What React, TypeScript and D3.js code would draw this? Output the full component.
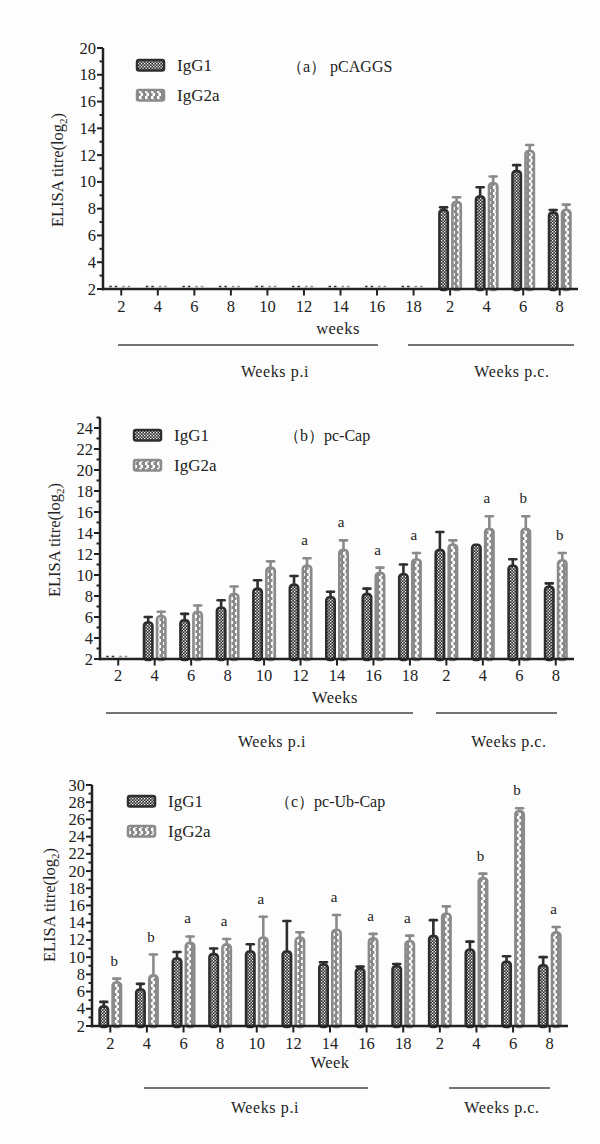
import React from 'react';
import * as d3 from 'd3';

// ---------- DATA ----------
const weeks = ["2", "4", "6", "8", "10", "12", "14", "16", "18", "2", "4", "6", "8"];
const seriesNames = ["IgG1", "IgG2a"];

// Panel (a) pCAGGS
const aIgG1 = [2, 2, 2, 2, 2, 2, 2, 2, 2, 8.0, 9.0, 10.9, 7.8];
const aIgG1Err = [0, 0, 0, 0, 0, 0, 0, 0, 0, 0.1, 0.6, 0.35, 0.1];
const aIgG2a = [2, 2, 2, 2, 2, 2, 2, 2, 2, 8.6, 10.0, 12.4, 8.0];
const aIgG2aErr = [0, 0, 0, 0, 0, 0, 0, 0, 0, 0.25, 0.4, 0.35, 0.3];
const aLetters = ["", "", "", "", "", "", "", "", "", "", "", "", ""];

// Panel (b) pc-Cap
const bIgG1 = [2, 5.6, 5.8, 7.0, 8.8, 9.2, 8.0, 8.3, 10.2, 12.5, 13.0, 11.0, 9.0];
const bIgG1Err = [0, 0.4, 0.5, 0.6, 0.7, 0.7, 0.4, 0.4, 0.8, 1.6, 0, 0.5, 0.2];
const bIgG2a = [2, 6.2, 6.6, 8.3, 10.8, 11.0, 12.5, 10.3, 11.6, 13.0, 14.5, 14.5, 11.5];
const bIgG2aErr = [0, 0.3, 0.5, 0.6, 0.5, 0.6, 0.8, 0.4, 0.5, 0.3, 1.1, 1.1, 0.6];
const bLetters = ["", "", "", "", "", "a", "a", "a", "a", "", "a", "b", "b"];

// Panel (c) pc-Ub-Cap
const cIgG1 = [4.4, 6.4, 10.0, 10.5, 10.8, 10.8, 9.3, 8.8, 9.1, 12.6, 11.0, 9.6, 9.2];
const cIgG1Err = [0.4, 0.5, 0.6, 0.5, 0.7, 3.4, 0.1, 0.1, 0.1, 1.7, 0.8, 0.5, 0.8];
const cIgG2a = [7.2, 8.0, 11.8, 11.6, 12.4, 12.4, 13.3, 12.3, 12.0, 15.2, 19.3, 27.1, 13.0];
const cIgG2aErr = [0.3, 2.3, 0.6, 0.5, 2.3, 0.5, 1.6, 0.4, 0.5, 0.7, 0.4, 0.2, 0.5];
const cLetters = ["b", "b", "a", "a", "a", "", "a", "a", "a", "", "b", "b", "a"];

const groupLabels = ["Weeks p.i", "Weeks p.c."];

// ---------- LAYOUT ----------
const FONT = "Liberation Serif, serif";
const C1 = "#2e2e2e";
const C2 = "#8a8a8a";
const AX = "#222";

type Panel = {
  title: string; xTitle: string;
  g1: number[]; e1: number[]; g2: number[]; e2: number[]; letters: string[];
  left: number; right: number; top: number; bottom: number; yMax: number; yTickMax: number;
  titleX: number; titleY: number; legX: number; legY1: number; legY2: number;
  yTitleX: number; yTitleY: number; xTitleX: number; xTitleY: number; tickY: number;
  lineY: number; line1: [number, number]; line2: [number, number];
  grpY: number; grpX: [number, number];
};

const panels: Panel[] = [
  {
    title: "（a） pCAGGS", xTitle: "weeks",
    g1: aIgG1, e1: aIgG1Err, g2: aIgG2a, e2: aIgG2aErr, letters: aLetters,
    left: 103, right: 578, top: 48, bottom: 289, yMax: 20, yTickMax: 20,
    titleX: 287, titleY: 72, legX: 136, legY1: 59, legY2: 89,
    yTitleX: 58, yTitleY: 170, xTitleX: 338, xTitleY: 334, tickY: 312,
    lineY: 345, line1: [118, 378], line2: [408, 574], grpY: 377, grpX: [275, 512],
  },
  {
    title: "（b）pc-Cap", xTitle: "Weeks",
    g1: bIgG1, e1: bIgG1Err, g2: bIgG2a, e2: bIgG2aErr, letters: bLetters,
    left: 100, right: 574, top: 417.5, bottom: 659, yMax: 25, yTickMax: 24,
    titleX: 284, titleY: 441, legX: 133, legY1: 429, legY2: 459,
    yTitleX: 55, yTitleY: 540, xTitleX: 335, xTitleY: 703, tickY: 681,
    lineY: 713, line1: [106, 413], line2: [436, 557], grpY: 747, grpX: [272, 509],
  },
  {
    title: "（c）pc-Ub-Cap", xTitle: "Week",
    g1: cIgG1, e1: cIgG1Err, g2: cIgG2a, e2: cIgG2aErr, letters: cLetters,
    left: 92, right: 568, top: 785, bottom: 1026, yMax: 30, yTickMax: 30,
    titleX: 275, titleY: 807, legX: 127, legY1: 795, legY2: 825,
    yTitleX: 50, yTitleY: 905, xTitleX: 330, xTitleY: 1068, tickY: 1049,
    lineY: 1088, line1: [144, 368], line2: [449, 550], grpY: 1113, grpX: [265, 502],
  },
];

function Bar({ x, w, v, e, y, bottom, color, pat }: any) {
  const sw = 2.6;
  if (v <= 2) {
    return (
      <line x1={x} x2={x + w} y1={bottom - 2.5} y2={bottom - 2.5}
        stroke={color} strokeWidth={1.5} strokeDasharray="2.5,3" />
    );
  }
  const yt = y(v);
  const cx = x + w / 2;
  return (
    <g>
      {e > 0 && (
        <g stroke={color} strokeWidth={2.6} strokeLinecap="round">
          <line x1={cx} x2={cx} y1={yt} y2={y(v + e)} />
          <line x1={cx - 3.5} x2={cx + 3.5} y1={y(v + e)} y2={y(v + e)} />
        </g>
      )}
      <rect x={x + sw / 2} y={yt + sw / 2} width={w - sw} height={bottom - yt - sw / 2 + 1}
        rx={3} fill={`url(#${pat})`} stroke={color} strokeWidth={sw} />
    </g>
  );
}

function PanelView({ p }: { p: Panel }) {
  const idx = weeks.map((_, i) => i);
  const x = d3.scaleBand<number>().domain(idx).range([p.left, p.right]).padding(0);
  const y = d3.scaleLinear().domain([2, p.yMax]).range([p.bottom, p.top]);
  const bw = x.bandwidth();
  const major = d3.range(2, p.yTickMax + 0.01, 2);
  const minor = d3.range(3, p.yMax + 0.01, 2);
  const txt = { fontFamily: FONT, fill: "#222" } as any;
  return (
    <g>
      {idx.map(i => {
        const c = (x(i) as number) + bw / 2;
        return (
          <g key={i}>
            <Bar x={c - 12} w={11} v={p.g1[i]} e={p.e1[i]} y={y} bottom={p.bottom} color={C1} pat="p1" />
            <Bar x={c + 1} w={11} v={p.g2[i]} e={p.e2[i]} y={y} bottom={p.bottom} color={C2} pat="p2" />
            {p.letters[i] && (
              <text x={c + 4} y={y(p.g2[i] + p.e2[i]) - 13} textAnchor="middle" fontSize={15} {...txt}>{p.letters[i]}</text>
            )}
          </g>
        );
      })}
      <line x1={p.left} x2={p.left} y1={p.top} y2={p.bottom + 1.25} stroke={AX} strokeWidth={2.5} />
      {major.map(t => (
        <g key={"M" + t}>
          <line x1={p.left - 6} x2={p.left} y1={y(t)} y2={y(t)} stroke={AX} strokeWidth={2} />
          <text x={p.left - 7} y={y(t) + 5.5} textAnchor="end" fontSize={16.5} {...txt}>{t}</text>
        </g>
      ))}
      {minor.map(t => (
        <line key={"m" + t} x1={p.left - 3.5} x2={p.left} y1={y(t)} y2={y(t)} stroke={AX} strokeWidth={2} />
      ))}
      <line x1={p.left - 1.25} x2={p.right} y1={p.bottom} y2={p.bottom} stroke={AX} strokeWidth={2.5} />
      {idx.map(i => {
        const c = (x(i) as number) + bw / 2;
        return (
          <g key={"x" + i}>
            <line x1={c} x2={c} y1={p.bottom} y2={p.bottom + 6.5} stroke={AX} strokeWidth={2} />
            <text x={c} y={p.tickY} textAnchor="middle" fontSize={16.5} {...txt}>{weeks[i]}</text>
          </g>
        );
      })}
      <text transform={`translate(${p.yTitleX + 5},${p.yTitleY}) rotate(-90)`} textAnchor="middle"
        fontSize={16.5} {...txt}>
        ELISA titre(log<tspan fontSize={11} dy={4}>2</tspan><tspan dy={-4}>)</tspan>
      </text>
      <text x={p.xTitleX} y={p.xTitleY} textAnchor="middle" fontSize={16.5} letterSpacing={0.5} {...txt}>{p.xTitle}</text>
      <line x1={p.line1[0]} x2={p.line1[1]} y1={p.lineY} y2={p.lineY} stroke="#444" strokeWidth={1.5} />
      <line x1={p.line2[0]} x2={p.line2[1]} y1={p.lineY} y2={p.lineY} stroke="#444" strokeWidth={1.5} />
      <text x={p.grpX[0]} y={p.grpY} textAnchor="middle" fontSize={16} letterSpacing={0.6} {...txt}>{groupLabels[0]}</text>
      <text x={p.grpX[1]} y={p.grpY} textAnchor="middle" fontSize={16} letterSpacing={0.6} {...txt}>{groupLabels[1]}</text>
      <rect x={p.legX + 1} y={p.legY1 + 1} width={27} height={10.5} rx={2} fill="url(#p1)" stroke={C1} strokeWidth={2.5} />
      <text x={p.legX + 41} y={p.legY1 + 12} fontSize={17} {...txt}>{seriesNames[0]}</text>
      <rect x={p.legX + 1} y={p.legY2 + 1} width={27} height={10.5} rx={2} fill="url(#p2)" stroke={C2} strokeWidth={2.5} />
      <text x={p.legX + 41} y={p.legY2 + 12} fontSize={17} {...txt}>{seriesNames[1]}</text>
      <text x={p.titleX} y={p.titleY} fontSize={16} {...txt}>{p.title}</text>
    </g>
  );
}

export default function App() {
  return (
    <svg width={600} height={1144} viewBox="0 0 600 1144"
      style={{ position: 'absolute', left: 0, top: 0, background: '#fff' }}>
      <defs>
        <pattern id="p1" width={3} height={3} patternUnits="userSpaceOnUse">
          <rect width={3} height={3} fill="#2e2e2e" />
          <rect x={0} y={0} width={1.3} height={1.3} fill="#fff" />
          <rect x={1.5} y={1.5} width={1.3} height={1.3} fill="#fff" />
        </pattern>
        <pattern id="p2" width={6} height={6} patternUnits="userSpaceOnUse">
          <rect width={6} height={6} fill={C2} />
          <rect x={1} y={0} width={2.5} height={3} fill="#fff" />
          <rect x={2.5} y={3} width={2.5} height={3} fill="#fff" />
        </pattern>
      </defs>
      <rect width={600} height={1144} fill="#fdfdfd" />
      {panels.map((p, i) => <PanelView key={i} p={p} />)}
    </svg>
  );
}
